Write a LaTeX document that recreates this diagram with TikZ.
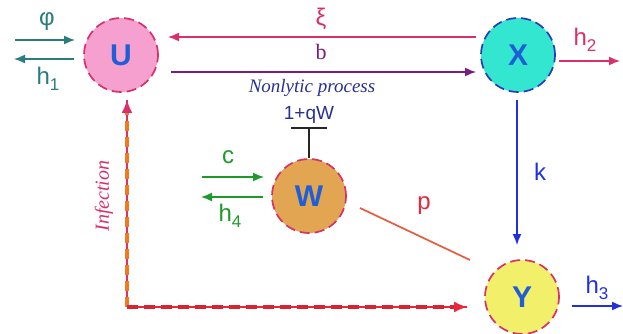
\documentclass[tikz,border=0pt]{standalone}
\usepackage{fontspec}
\setmainfont{Liberation Sans}
\newfontfamily\serifit{Liberation Serif}
\usetikzlibrary{arrows.meta,calc}
\definecolor{ucol}{HTML}{F5A0CF}
\definecolor{xcol}{HTML}{33E6CF}
\definecolor{wcol}{HTML}{E2A552}
\definecolor{ycol}{HTML}{F2F06A}
\definecolor{crim}{HTML}{D93068}
\definecolor{navy}{HTML}{2A3DB8}
\definecolor{letter}{HTML}{1E5ED6}
\definecolor{teal}{HTML}{2A7D7D}
\definecolor{purp}{HTML}{7A1C82}
\definecolor{grn}{HTML}{1E9A2A}
\definecolor{blu}{HTML}{2030E0}
\definecolor{orng}{HTML}{F07A20}
\definecolor{redd}{HTML}{E8283A}
\definecolor{labnavy}{HTML}{283090}
\newcommand{\hsub}[1]{h\raisebox{-6pt}{\fontsize{17}{18}\selectfont #1}}
\tikzset{
  comp/.style={circle, minimum size=74pt, inner sep=0pt, line width=1.7pt,
    dash pattern=on 10pt off 5pt, font=\fontsize{30}{32}\selectfont\bfseries, text=letter},
  arr/.style={line width=1.5pt, -{Latex[length=11pt,width=9pt]}},
  lab/.style={font=\fontsize{24}{26}\selectfont, inner sep=0pt},
}
\begin{document}
\begin{tikzpicture}[x=1pt,y=-1pt]
\useasboundingbox (0,0) rectangle (623,334);
% compartments
\node[comp, fill=ucol, draw=crim] (U) at (121,55) {U};
\node[comp, fill=xcol, draw=navy] (X) at (518,55) {X};
\node[comp, fill=wcol, draw=crim] (W) at (309,196) {W};
\node[comp, fill=ycol, draw=crim] (Y) at (522,297) {Y};
% free ends
\coordinate (phiS) at (15,40);  \coordinate (phiE) at (75,40);
\coordinate (h1S) at (74,59);   \coordinate (h1E) at (14,59);
\coordinate (xiS) at (476,37);  \coordinate (xiE) at (168,37);
\coordinate (bS) at (171,72);   \coordinate (bE) at (476,72);
\coordinate (h2S) at (559,61);  \coordinate (h2E) at (620,61);
\coordinate (kS) at (517,100);  \coordinate (kE) at (517,245);
\coordinate (cS) at (202,177);  \coordinate (cE) at (264,177);
\coordinate (h4S) at (263,197); \coordinate (h4E) at (201,197);
\coordinate (pS) at (360,208);  \coordinate (pE) at (470,260);
\coordinate (h3S) at (572,306); \coordinate (h3E) at (623,306);
\coordinate (corner) at (127,307);
\coordinate (infTop) at (127,100);
\coordinate (infEnd) at (467,307);
\coordinate (barL) at (291,128); \coordinate (barR) at (327,128);
\coordinate (barM) at (309,128);
% U in/out
\draw[arr, teal] (phiS) -- (phiE);
\node[lab, text=teal] (phi) at (47,22) {φ};
\draw[arr, teal] (h1S) -- (h1E);
\node[lab, text=teal] (h1) at (48,79) {\hsub{1}};
% xi and b
\draw[arr, crim] (xiS) -- (xiE);
\node[lab, text=crim] (xi) at (321,19) {ξ};
\draw[arr, purp] (bS) -- (bE);
\node[font=\serifit\fontsize{22}{24}\selectfont, text=purp, inner sep=0pt] (b) at (321,52) {b};
\node[font=\serifit\itshape\fontsize{19}{21}\selectfont, text=labnavy, inner sep=0pt] (nl) at (312,88) {Nonlytic process};
% X out
\draw[arr, crim] (h2S) -- (h2E);
\node[lab, text=crim] (h2) at (585,40) {\hsub{2}};
% k
\draw[arr, blu] (kS) -- (kE);
\node[lab, text=blu] (k) at (540,172) {k};
% W inhibition
\draw[line width=1.8pt, black!85] (W.north) -- (barM);
\draw[line width=1.8pt, black!85] (barL) -- (barR);
\node[font=\fontsize{19}{21}\selectfont, text=labnavy, inner sep=0pt] (q) at (309,115) {1+qW};
% c, h4
\draw[arr, grn] (cS) -- (cE);
\node[lab, text=grn] (c) at (228,157) {c};
\draw[arr, grn] (h4S) -- (h4E);
\node[lab, text=grn] (h4) at (230,216) {\hsub{4}};
% p
\draw[line width=1.7pt, color=orng!60!crim] (pS) -- (pE);
\node[lab, text=redd] (p) at (424,206) {p};
% infection
\draw[line width=1.3pt, crim] (corner) -- (infTop);
\draw[line width=3.6pt, orng, dash pattern=on 10pt off 6pt] (corner) -- ($(infTop)+(0,10)$);
\draw[line width=1.5pt, crim, -{Latex[length=13pt,width=11pt]}] ($(infTop)+(0,10)$) -- (infTop);
\draw[line width=1.3pt, redd] (corner) -- (infEnd);
\draw[line width=3.8pt, redd!92!black, dash pattern=on 11pt off 6pt] (corner) -- ($(infEnd)+(-10,0)$);
\draw[line width=1.5pt, redd, -{Latex[length=13pt,width=11pt]}] ($(infEnd)+(-10,0)$) -- (infEnd);
\node[font=\serifit\itshape\fontsize{20}{22}\selectfont, text=crim, rotate=90, inner sep=0pt] (inf) at (104,196) {Infection};
% Y out
\draw[arr, blu] (h3S) -- (h3E);
\node[lab, text=blu] (h3) at (597,288) {\hsub{3}};
\end{tikzpicture}
\end{document}
